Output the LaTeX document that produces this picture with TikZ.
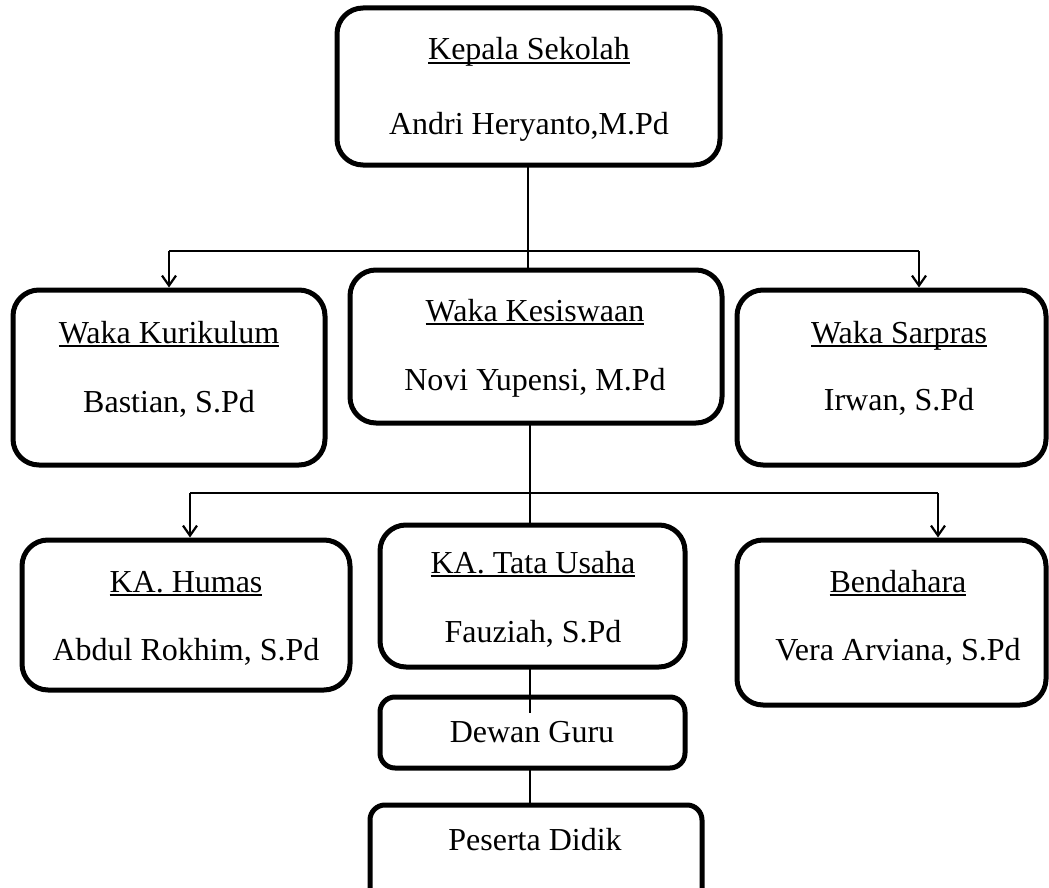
\documentclass[tikz,border=0pt]{standalone}
\usepackage{fontspec}
\setmainfont{Liberation Serif}
\usetikzlibrary{arrows.meta}
\newcommand{\ulx}[1]{{\setbox0\hbox{#1}\rlap{\rule[-3.6pt]{\wd0}{1.8pt}}\box0}}
\begin{document}
\begin{tikzpicture}[x=1pt,y=-1pt,
  orgbox/.style={draw, line width=5pt, rounded corners=26pt, inner sep=0pt},
  smallbox/.style={draw, line width=5pt, rounded corners=15pt, inner sep=0pt},
  txt/.style={anchor=base, inner sep=0pt, font=\fontsize{32}{38}\selectfont},
  vline/.style={line width=2.6pt},
  hline/.style={line width=2pt},
  arr/.style={line width=2.2pt, -{Straight Barb[length=10pt,width=14pt]}}]
\useasboundingbox (0,0) rectangle (1049,888);
\clip (0,0) rectangle (1049,888);
% boxes
\node[orgbox, minimum width=383pt, minimum height=157pt] (kep) at (528.5,86.5) {};
\node[orgbox, minimum width=312pt, minimum height=175pt] (kur) at (169,377.5) {};
\node[orgbox, minimum width=372pt, minimum height=153pt] (kes) at (536,346.5) {};
\node[orgbox, minimum width=309pt, minimum height=175pt] (sar) at (891.5,377.5) {};
\node[orgbox, minimum width=328pt, minimum height=150pt] (hum) at (186,615) {};
\node[orgbox, minimum width=305pt, minimum height=142pt] (tu) at (532.5,596) {};
\node[orgbox, minimum width=309pt, minimum height=165pt] (ben) at (891.5,622.5) {};
\node[smallbox, minimum width=305pt, minimum height=71pt] (dg) at (532.5,732.5) {};
\node[smallbox, minimum width=332pt, minimum height=110pt] (pd) at (536,860) {};
% texts
\node[txt] (kepT) at (529,60) {\ulx{Kepala Sekolah}};
\node[txt] (kepN) at (529,135) {Andri Heryanto,M.Pd};
\node[txt] (kurT) at (169,343) {\ulx{Waka Kurikulum}};
\node[txt] (kurN) at (169,412) {Bastian, S.Pd};
\node[txt] (kesT) at (535,321) {\ulx{Waka Kesiswaan}};
\node[txt] (kesN) at (535,390) {Novi Yupensi, M.Pd};
\node[txt] (sarT) at (899,343) {\ulx{Waka Sarpras}};
\node[txt] (sarN) at (899,410) {Irwan, S.Pd};
\node[txt] (humT) at (186,592) {\ulx{KA. Humas}};
\node[txt] (humN) at (186,660) {Abdul Rokhim, S.Pd};
\node[txt] (tuT) at (533,573) {\ulx{KA. Tata Usaha}};
\node[txt] (tuN) at (533,642) {Fauziah, S.Pd};
\node[txt] (benT) at (898,592) {\ulx{Bendahara}};
\node[txt] (benN) at (898,660) {Vera Arviana, S.Pd};
\node[txt] (dgT) at (532,742) {Dewan Guru};
\node[txt] (pdT) at (535,850) {Peserta Didik};
% bus coordinates
\coordinate (k1) at (528,165);
\coordinate (b1L) at (169,251);
\coordinate (b1R) at (919,251);
\coordinate (k2) at (530,423);
\coordinate (b2L) at (190,493);
\coordinate (b2R) at (938,493);
\coordinate (t1) at (530,667);
\coordinate (t2) at (530,713);
\coordinate (d1) at (530,768);
% connectors
\draw[vline] (k1) -- (k1 |- kes.north);
\draw[hline] (b1L) -- (b1R);
\draw[arr] (b1L) -- (b1L |- kur.north);
\draw[arr] (b1R) -- (b1R |- sar.north);
\draw[vline] (k2) -- (k2 |- tu.north);
\draw[hline] (b2L) -- (b2R);
\draw[arr] (b2L) -- (b2L |- hum.north);
\draw[arr] (b2R) -- (b2R |- ben.north);
\draw[vline] (t1) -- (t2);
\draw[vline] (d1) -- (d1 |- pd.north);
\end{tikzpicture}
\end{document}
